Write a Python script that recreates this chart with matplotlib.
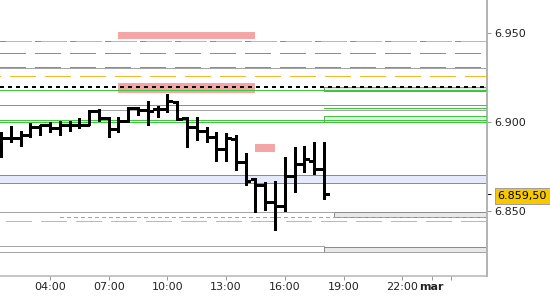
import matplotlib
matplotlib.use('Agg')
import matplotlib.pyplot as plt
from matplotlib.patches import Rectangle

plt.rcParams['font.family'] = ['DejaVu Sans']
plt.rcParams['lines.scale_dashes'] = False

# ---- data (30-minute OHLC bars, hours of day) ----
bar_hours = [1.5, 2.0, 2.5, 3.0, 3.5, 4.0, 4.5, 5.0, 5.5, 6.0, 6.5, 7.0,
             7.5, 8.0, 8.5, 9.0, 9.5, 10.0, 10.5, 11.0, 11.5, 12.0, 12.5,
             13.0, 13.5, 14.0, 14.5, 15.0, 15.5, 16.0, 16.5, 17.0, 17.5, 18.0]
opens = [6.8910, 6.8910, 6.8910, 6.8925, 6.8970, 6.8985, 6.8965, 6.8980,
         6.8985, 6.8985, 6.9060, 6.9020, 6.8960, 6.9005, 6.9080, 6.9070,
         6.9075, 6.9075, 6.9115, 6.9020, 6.8970, 6.8950, 6.8915, 6.8850,
         6.8905, 6.8775, 6.8680, 6.8645, 6.8550, 6.8525, 6.8695, 6.8765,
         6.8780, 6.8735]
highs = [6.8945, 6.8975, 6.8950, 6.8995, 6.8985, 6.9000, 6.9005, 6.9005,
         6.9020, 6.9070, 6.9075, 6.9030, 6.9025, 6.9085, 6.9085, 6.9120,
         6.9090, 6.9160, 6.9120, 6.9025, 6.9025, 6.8970, 6.8945, 6.8940,
         6.8925, 6.8825, 6.8685, 6.8660, 6.8670, 6.8800, 6.8860, 6.8865,
         6.8885, 6.8885]
lows = [6.8805, 6.8885, 6.8865, 6.8915, 6.8925, 6.8945, 6.8925, 6.8950,
        6.8965, 6.8980, 6.9005, 6.8915, 6.8945, 6.9000, 6.9040, 6.8985,
        6.9025, 6.9055, 6.9010, 6.8860, 6.8900, 6.8885, 6.8780, 6.8780,
        6.8730, 6.8645, 6.8495, 6.8505, 6.8390, 6.8500, 6.8605, 6.8720,
        6.8705, 6.8565]
closes = [6.8910, 6.8910, 6.8925, 6.8970, 6.8985, 6.8965, 6.8980, 6.8985,
          6.8985, 6.9060, 6.9020, 6.8960, 6.9005, 6.9080, 6.9070, 6.9060,
          6.9075, 6.9120, 6.9015, 6.8970, 6.8950, 6.8915, 6.8850, 6.8910,
          6.8775, 6.8670, 6.8645, 6.8550, 6.8525, 6.8695, 6.8765, 6.8790,
          6.8735, 6.8595]
last_price = 6.8595
last_label = "6.859,50"

ytick_vals = [6.850, 6.900, 6.950]
ytick_labels = ["6.850", "6.900", "6.950"]
xtick_vals = [4, 7, 10, 13, 16, 19, 22, 23.5, 24.5]
xtick_labels = ["04:00", "07:00", "10:00", "13:00", "16:00", "19:00", "22:00", "mar", ""]

# levels
pink_zone_hi = (6.9469, 6.9507)
pink_zone_mid = (6.9165, 6.9220)
pink_zone_small = (6.8833, 6.8876)
pink_zone_span = (7.5, 14.5)
pink_small_span = (14.5, 15.5)
blue_band = (6.8655, 6.8701)
orange_levels = [6.9455, 6.9257, 6.8441]
blue_dash_levels = [6.9455, 6.9387, 6.9308]
grey_levels = [6.9302, 6.8491, 6.8303, 6.8266]
green_levels = [6.9179, 6.9094, 6.9010, 6.9000]
dotted_level = 6.9197
grey_short_level = 6.9068
pink_dash_level = 6.8463
zones_right = [(6.9175, 6.9195, 18.0), (6.9000, 6.9032, 18.0),
               (6.8466, 6.8491, 18.5), (6.8269, 6.8294, 18.0)]

PX = 0.72  # points per pixel at 100 dpi
X0, X1 = 1.445, 26.33
Y0, Y1 = 6.8132, 6.9687

fig = plt.figure(figsize=(5.5, 3.0), dpi=100)
ax = fig.add_axes([0, 24 / 300, 487 / 550, 276 / 300])
ax.set_xlim(X0, X1)
ax.set_ylim(Y0, Y1)

green = '#3ec83e'
grey = '#a4a4a4'
blue = '#6590e6'
orange = '#f5b52e'
pink = '#f4a5a5'
AA = False


def hl(y, x0, x1, color, lw_px=1.0, ls='solid', z=2):
    ax.hlines(y, x0, x1, colors=color, linewidth=lw_px * PX, linestyles=ls,
              zorder=z, antialiased=AA)


# pink zones
for (lo, hi) in [pink_zone_hi, pink_zone_mid]:
    ax.add_patch(Rectangle((pink_zone_span[0], lo), pink_zone_span[1] - pink_zone_span[0],
                           hi - lo, facecolor=pink, edgecolor='none', zorder=1))
ax.add_patch(Rectangle((pink_small_span[0], pink_zone_small[0]),
                       pink_small_span[1] - pink_small_span[0],
                       pink_zone_small[1] - pink_zone_small[0],
                       facecolor=pink, edgecolor='none', zorder=1))

# blue band
ax.add_patch(Rectangle((X0, blue_band[0]), X1 - X0, blue_band[1] - blue_band[0],
                       facecolor='#e4eafb', edgecolor='none', zorder=1))
for y in blue_band:
    hl(y, X0, X1, blue, 1.0)

# right-side zones
for (lo, hi, xs) in zones_right:
    ax.add_patch(Rectangle((xs, lo), X1 - xs, hi - lo, facecolor='#e8e8e8',
                           edgecolor='#8c8c8c', linewidth=1.0 * PX, zorder=2,
                           antialiased=AA))

# grey lines
hl(grey_levels[0], X0, X1, grey)
hl(grey_levels[1], X0, 18.5, grey)
hl(grey_levels[2], X0, 18.0, grey)
hl(grey_levels[3], X0, X1, grey)
hl(grey_short_level, 6.5, X1, grey)

# blue dashed
for y in blue_dash_levels:
    hl(y, X0, X1, blue, 1.0, [(0, (25 * PX, 10 * PX))])
# orange dashed
hl(orange_levels[0], X0, X1, orange, 1.0, [(29 * PX, (25 * PX, 10 * PX))], 3)
hl(orange_levels[1], X0, X1, orange, 1.0, [(25 * PX, (25 * PX, 10 * PX))], 3)
hl(orange_levels[2], X0, X1, orange, 1.0, [(29 * PX, (25 * PX, 10 * PX))], 3)

# pink dashed
hl(pink_dash_level, 4.5, X1, '#f07ab4', 1.0, [(0, (4 * PX, 3 * PX))], 3)

# green lines
for y in green_levels:
    hl(y, X0, X1, green, 1.0, 'solid', 3)
hl(6.9081, 18.0, X1, green, 1.0, 'solid', 3)
hl(6.9032, 18.0, X1, green, 1.0, 'solid', 3)

# dotted black
hl(dotted_level, X0, X1, 'black', 2.5, [(0, (3 * PX, 4.5 * PX))], 4)

# OHLC bars
tick_len = 0.24
bar_lw = 3 * PX
ax.vlines(bar_hours, lows, highs, colors='black', linewidth=bar_lw, zorder=6,
          antialiased=AA)
ax.hlines(opens, [t - tick_len for t in bar_hours], bar_hours, colors='black',
          linewidth=bar_lw, zorder=6, antialiased=AA)
ax.hlines(closes, bar_hours, [t + tick_len for t in bar_hours], colors='black',
          linewidth=bar_lw, zorder=6, antialiased=AA)

# axes styling
for s in ['top', 'left']:
    ax.spines[s].set_visible(False)
ax.spines['right'].set_color('#b4b4b4')
ax.spines['right'].set_linewidth(2 * PX)
ax.spines['bottom'].set_color('#b4b4b4')
ax.spines['bottom'].set_linewidth(1.5 * PX)

ax.yaxis.tick_right()
ax.set_yticks(ytick_vals)
ax.set_yticklabels(ytick_labels)
ax.set_yticks([last_price], minor=True)
ax.tick_params(axis='y', which='major', length=4 * PX, width=1 * PX, color='#999999',
               labelsize=8, labelcolor='#222222', pad=3 * PX)
ax.tick_params(axis='y', which='minor', length=4 * PX, width=1 * PX, color='black',
               labelright=False)
ax.set_xticks(xtick_vals)
ax.set_xticklabels(xtick_labels)
ax.tick_params(axis='x', length=4 * PX, width=1 * PX, color='#999999',
               labelsize=8, labelcolor='#222222', pad=2 * PX)
ax.get_xticklabels()[7].set_fontweight('bold')

# last price label
fig.text(497.7 / 550, (300 - 196.3) / 300, last_label, ha='left', va='center',
         fontsize=8, color='black',
         bbox=dict(boxstyle='square,pad=0.28', facecolor='#f7c800', edgecolor='#a0a0a0',
                   linewidth=1.0 * PX))

fig.savefig('out.png', dpi=100)
